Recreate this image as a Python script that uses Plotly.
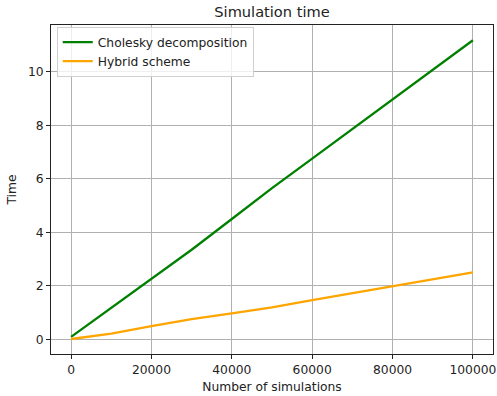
import plotly.graph_objects as go

n_sims = [0, 10000, 20000, 30000, 40000, 50000, 60000, 70000, 80000, 90000, 100000]
cholesky = [0.10, 1.18, 2.27, 3.35, 4.50, 5.65, 6.75, 7.85, 8.97, 10.07, 11.17]
hybrid = [0.02, 0.22, 0.50, 0.76, 0.98, 1.20, 1.47, 1.73, 2.00, 2.25, 2.51]

x_ticks = [0, 20000, 40000, 60000, 80000, 100000]
y_ticks = [0, 2, 4, 6, 8, 10]

font = "DejaVu Sans"
fs = 12.3

fig = go.Figure()
fig.add_trace(go.Scatter(x=n_sims, y=cholesky, mode="lines", name="Cholesky decomposition",
                         line=dict(color="green", width=2.3)))
fig.add_trace(go.Scatter(x=n_sims, y=hybrid, mode="lines", name="Hybrid scheme",
                         line=dict(color="orange", width=2.3)))

axis_common = dict(
    showline=True, linecolor="#222", linewidth=1, mirror=True,
    ticks="outside", ticklen=4, tickcolor="#222", tickwidth=1,
    showgrid=True, gridcolor="#b0b0b0", gridwidth=0.8,
    zeroline=False, automargin=False,
    tickfont=dict(family=font, size=fs, color="#222"),
)

fig.update_layout(
    width=497, height=396,
    margin=dict(l=51, r=4, t=25, b=42),
    paper_bgcolor="white", plot_bgcolor="white",
    font=dict(family=font, size=fs, color="#222"),
    title=dict(text="Simulation time", x=0.5, xref="paper", y=1 - 12 / 396, yref="container",
               xanchor="center", yanchor="middle",
               font=dict(family=font, size=14.6, color="#222")),
    xaxis=dict(range=[-5000, 105000], tickvals=x_ticks, ticktext=[str(v) for v in x_ticks],
               title=dict(text="Number of simulations", font=dict(family=font, size=fs), standoff=6),
               **axis_common),
    yaxis=dict(range=[-0.54, 11.74], tickvals=y_ticks, ticktext=[str(v) for v in y_ticks],
               title=dict(text="Time", font=dict(family=font, size=fs), standoff=8),
               **axis_common),
    legend=dict(x=0.013, y=0.995, xanchor="left", yanchor="top",
                bgcolor="rgba(255,255,255,0.8)", bordercolor="#d0d0d0", borderwidth=1,
                font=dict(family=font, size=fs, color="#222"), tracegroupgap=0),
    showlegend=True,
)

fig.write_html(
    "out.html",
    config={"displayModeBar": False},
    post_script="document.body.style.margin='0';document.body.style.padding='0';"
                "document.body.style.overflow='hidden';",
)
